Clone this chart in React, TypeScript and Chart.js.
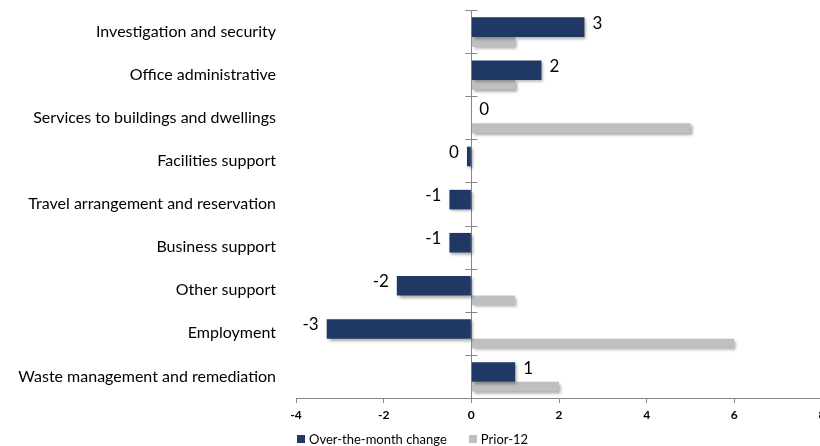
import React, { useEffect, useRef } from "react";
import { Chart, registerables } from "chart.js";

Chart.register(...registerables);

const categories = [
  "Investigation and security",
  "Office administrative",
  "Services to buildings and dwellings",
  "Facilities support",
  "Travel arrangement and reservation",
  "Business support",
  "Other support",
  "Employment",
  "Waste management and remediation",
];
const overTheMonth = [2.58, 1.6, 0, -0.1, -0.5, -0.5, -1.7, -3.3, 1.0];
const prior12 = [1.0, 1.0, 5.0, 0, 0, 0, 1.0, 6.0, 2.0];
const xTicks = [-4, -2, 0, 2, 4, 6, 8];
const seriesNames = ["Over-the-month change", "Prior-12"];

const DARK = "#1F3864";
const GRAY = "#BFBFBF";
const AXIS = "#868686";
const FONT = "Lato, 'Open Sans', sans-serif";

function roundAway(v: number): string {
  const r = Math.sign(v) * Math.round(Math.abs(v));
  return r === 0 ? "0" : String(r);
}

export default function App() {
  const ref = useRef<HTMLCanvasElement | null>(null);

  useEffect(() => {
    if (!ref.current) return;

    const shadowPlugin = {
      id: "shadow",
      beforeDatasetsDraw(chart: any) {
        const ctx = chart.ctx;
        ctx.save();
        ctx.shadowColor = "rgba(0,0,0,0.35)";
        ctx.shadowBlur = 3;
        ctx.shadowOffsetX = 2;
        ctx.shadowOffsetY = 2;
      },
      afterDatasetsDraw(chart: any) {
        chart.ctx.restore();
      },
    };

    const extrasPlugin = {
      id: "extras",
      afterDraw(chart: any) {
        const ctx = chart.ctx;
        const xs = chart.scales.x;
        const area = chart.chartArea;
        const x0 = xs.getPixelForValue(0);
        const n = categories.length;
        const band = (area.bottom - area.top) / n;
        ctx.save();
        ctx.strokeStyle = AXIS;
        ctx.lineWidth = 1;
        for (let i = 0; i < n; i++) {
          const y = Math.round(area.top + i * band) + 0.5;
          ctx.beginPath();
          ctx.moveTo(x0 - 6, y);
          ctx.lineTo(x0 + 6, y);
          ctx.stroke();
        }
        const meta = chart.getDatasetMeta(0);
        ctx.fillStyle = "#000";
        ctx.font = `17px ${FONT}`;
        ctx.textBaseline = "middle";
        meta.data.forEach((el: any, i: number) => {
          const v = overTheMonth[i];
          const txt = roundAway(v);
          if (v >= 0) {
            ctx.textAlign = "left";
            ctx.fillText(txt, el.x + 8, el.y - 4);
          } else {
            ctx.textAlign = "right";
            ctx.fillText(txt, el.x - 8, el.y - 4);
          }
        });
        ctx.restore();
      },
    };

    const chart = new Chart(ref.current, {
      type: "bar",
      data: {
        labels: categories,
        datasets: [
          {
            label: seriesNames[0],
            data: overTheMonth,
            backgroundColor: DARK,
            borderWidth: 0,
            categoryPercentage: 0.4075,
            barPercentage: 2.23,
          },
          {
            label: seriesNames[1],
            data: prior12,
            backgroundColor: GRAY,
            borderWidth: 0,
            categoryPercentage: 0.951,
            barPercentage: 0.473,
          },
        ],
      },
      options: {
        indexAxis: "y",
        animation: false,
        responsive: false,
        maintainAspectRatio: false,
        devicePixelRatio: 1,
        layout: { padding: { left: 0, right: 8, top: 10, bottom: 0 } },
        plugins: {
          legend: { display: false },
          tooltip: { enabled: false },
        },
        scales: {
          x: {
            type: "linear",
            min: -4,
            max: 8,
            afterFit(scale: any) {
              scale.height = 48;
              scale.paddingLeft = 0;
              scale.paddingRight = 0;
            },
            afterBuildTicks(scale: any) {
              scale.ticks = xTicks.map((v) => ({ value: v }));
            },
            ticks: {
              color: "#000",
              font: { family: FONT, size: 12, weight: "bold" },
              padding: 5,
              maxRotation: 0,
              callback: (v: any) => String(v),
            },
            grid: {
              color: (c: any) => (c.tick && c.tick.value === 0 ? AXIS : "rgba(0,0,0,0)"),
              tickColor: AXIS,
              tickLength: 5,
              drawOnChartArea: true,
            },
            border: { display: true, color: AXIS },
          },
          y: {
            type: "category",
            afterFit(scale: any) {
              scale.width = 296;
              scale.paddingTop = 0;
              scale.paddingBottom = 0;
            },
            ticks: {
              color: "#000",
              font: { family: FONT, size: 16 },
              padding: 20,
            },
            grid: { display: false, drawTicks: false },
            border: { display: false },
          },
        },
      },
      plugins: [shadowPlugin, extrasPlugin],
    } as any);

    return () => chart.destroy();
  }, []);

  return (
    <div
      style={{
        position: "absolute",
        left: 0,
        top: 0,
        width: 820,
        height: 446,
        overflow: "hidden",
        background: "#fff",
      }}
    >
      <canvas ref={ref} width={830} height={446} style={{ width: 830, height: 446, display: "block" }} />
      <div
        style={{
          position: "absolute",
          left: 297,
          top: 432,
          display: "flex",
          alignItems: "center",
          fontFamily: FONT,
          fontSize: 13,
          color: "#000",
          lineHeight: "14px",
          whiteSpace: "nowrap",
        }}
      >
        <span style={{ display: "inline-block", width: 8, height: 8, background: DARK, marginRight: 4 }} />
        <span style={{ marginRight: 22 }}>{seriesNames[0]}</span>
        <span style={{ display: "inline-block", width: 8, height: 8, background: GRAY, marginRight: 4 }} />
        <span>{seriesNames[1]}</span>
      </div>
    </div>
  );
}
